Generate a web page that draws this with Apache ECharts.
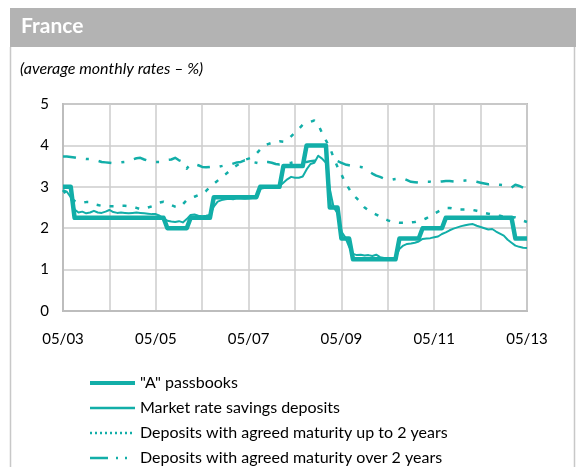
<!DOCTYPE html>
<html>
<head>
<meta charset="utf-8">
<script src="https://cdn.jsdelivr.net/npm/echarts@6/dist/echarts.min.js"></script>
<style>
  html, body { margin: 0; padding: 0; background: #ffffff; }
  #chart { width: 580px; height: 467px; }
</style>
</head>
<body>
<div id="chart"></div>
<script>
// Monthly observations, May 2003 to May 2013 (121 months)
const startYear = 2003, startMonth = 5, monthCount = 121;
const months = [];
for (let i = 0; i < monthCount; i++) {
  const m = ((startMonth - 1 + i) % 12) + 1;
  const y = startYear + Math.floor((startMonth - 1 + i) / 12);
  months.push(String(m).padStart(2, '0') + '/' + String(y % 100).padStart(2, '0'));
}

const seriesNames = [
  '"A" passbooks',
  'Market rate savings deposits',
  'Deposits with agreed maturity up to 2 years',
  'Deposits with agreed maturity over 2 years'
];

// Regulated "A" passbook rate (%)
const passbookA = [
  3.00, 3.00, 3.00,
  2.25, 2.25, 2.25, 2.25, 2.25, 2.25, 2.25, 2.25, 2.25, 2.25, 2.25, 2.25,
  2.25, 2.25, 2.25, 2.25, 2.25, 2.25, 2.25, 2.25, 2.25, 2.25, 2.25, 2.25,
  2.00, 2.00, 2.00, 2.00, 2.00, 2.00,
  2.25, 2.25, 2.25, 2.25, 2.25, 2.25,
  2.75, 2.75, 2.75, 2.75, 2.75, 2.75, 2.75, 2.75, 2.75, 2.75, 2.75, 2.75,
  3.00, 3.00, 3.00, 3.00, 3.00, 3.00,
  3.50, 3.50, 3.50, 3.50, 3.50, 3.50,
  4.00, 4.00, 4.00, 4.00, 4.00, 4.00,
  2.50, 2.50, 2.50,
  1.75, 1.75, 1.75,
  1.25, 1.25, 1.25, 1.25, 1.25, 1.25, 1.25, 1.25, 1.25, 1.25, 1.25, 1.25,
  1.75, 1.75, 1.75, 1.75, 1.75, 1.75,
  2.00, 2.00, 2.00, 2.00, 2.00, 2.00,
  2.25, 2.25, 2.25, 2.25, 2.25, 2.25, 2.25, 2.25, 2.25,
  2.25, 2.25, 2.25, 2.25, 2.25, 2.25, 2.25, 2.25, 2.25,
  1.75, 1.75, 1.75, 1.75
];

// Market rate savings deposits (%)
const marketRate = [
  2.92, 2.88, 2.75, 2.45, 2.38, 2.40, 2.36, 2.38, 2.42, 2.38, 2.37, 2.40,
  2.44, 2.39, 2.37, 2.38, 2.37, 2.36, 2.37, 2.38, 2.37, 2.36, 2.35, 2.34,
  2.34, 2.30, 2.24, 2.18, 2.16, 2.15, 2.17, 2.14, 2.22, 2.32, 2.33, 2.30,
  2.29, 2.30, 2.32, 2.52, 2.64, 2.68, 2.70, 2.71, 2.70, 2.72, 2.72, 2.71,
  2.72, 2.73, 2.76, 2.95, 2.97, 2.98, 2.97, 3.00, 3.02, 3.10, 3.18, 3.24,
  3.22, 3.22, 3.25, 3.42, 3.55, 3.58, 3.75, 3.68, 3.58, 2.95, 2.50, 2.36,
  1.92, 1.78, 1.55, 1.38, 1.35, 1.36, 1.34, 1.35, 1.33, 1.36, 1.30, 1.28,
  1.27, 1.27, 1.28, 1.50, 1.58, 1.62, 1.63, 1.65, 1.68, 1.74, 1.75, 1.76,
  1.78, 1.80, 1.86, 1.90, 1.95, 1.99, 2.02, 2.05, 2.07, 2.09, 2.10, 2.06,
  2.03, 2.00, 1.97, 1.98, 1.92, 1.87, 1.82, 1.72, 1.65, 1.58, 1.55, 1.53,
  1.52
];

// Deposits with agreed maturity up to 2 years (%)
const upTo2Years = [
  2.92, 2.80, 2.72, 2.66, 2.62, 2.62, 2.63, 2.63, 2.58, 2.56, 2.54, 2.53,
  2.53, 2.53, 2.53, 2.54, 2.54, 2.53, 2.52, 2.49, 2.46, 2.47, 2.50, 2.53,
  2.58, 2.62, 2.64, 2.60, 2.56, 2.52, 2.50, 2.58, 2.68, 2.72, 2.76, 2.80,
  2.82, 2.90, 2.99, 3.07, 3.15, 3.23, 3.30, 3.38, 3.46, 3.52, 3.58, 3.65,
  3.68, 3.72, 3.80, 3.90, 4.00, 4.03, 4.06, 4.09, 4.10, 4.09, 4.12, 4.22,
  4.31, 4.40, 4.50, 4.53, 4.57, 4.60, 4.50, 4.30, 4.12, 3.95, 3.70, 3.48,
  3.30, 3.10, 2.95, 2.80, 2.72, 2.62, 2.50, 2.43, 2.38, 2.33, 2.28, 2.23,
  2.19, 2.16, 2.14, 2.13, 2.13, 2.13, 2.14, 2.15, 2.18, 2.20, 2.24, 2.30,
  2.35, 2.40, 2.45, 2.49, 2.49, 2.47, 2.45, 2.45, 2.45, 2.44, 2.44, 2.42,
  2.40, 2.37, 2.35, 2.33, 2.31, 2.30, 2.28, 2.27, 2.27, 2.26, 2.22, 2.18,
  2.15
];

// Deposits with agreed maturity over 2 years (%)
const over2Years = [
  3.73, 3.73, 3.72, 3.71, 3.69, 3.68, 3.67, 3.67, 3.65, 3.63, 3.60, 3.59,
  3.58, 3.57, 3.58, 3.59, 3.60, 3.63, 3.66, 3.69, 3.70, 3.66, 3.63, 3.61,
  3.60, 3.60, 3.62, 3.65, 3.66, 3.70, 3.64, 3.60, 3.44, 3.55, 3.55, 3.52,
  3.48, 3.47, 3.48, 3.50, 3.48, 3.50, 3.52, 3.53, 3.56, 3.59, 3.60, 3.64,
  3.62, 3.60, 3.58, 3.56, 3.60, 3.60, 3.58, 3.55, 3.54, 3.55, 3.57, 3.58,
  3.60, 3.60, 3.61, 3.60, 3.62, 3.63, 3.62, 3.60, 3.58, 3.60, 3.64, 3.62,
  3.58, 3.54, 3.52, 3.50, 3.49, 3.48, 3.45, 3.38, 3.32, 3.27, 3.24, 3.20,
  3.18, 3.17, 3.19, 3.20, 3.20, 3.16, 3.12, 3.11, 3.10, 3.11, 3.12, 3.12,
  3.10, 3.12, 3.13, 3.14, 3.14, 3.13, 3.12, 3.14, 3.15, 3.15, 3.14, 3.12,
  3.10, 3.08, 3.06, 3.07, 3.06, 3.05, 3.04, 3.00, 2.98, 3.05, 3.02, 2.98,
  2.95
];

const teal = '#12aea8';
const font = 'Lato, "Open Sans", sans-serif';

const chart = echarts.init(document.getElementById('chart'), null, { renderer: 'canvas' });

function lineSeries(name, data, width, dash) {
  return {
    name: name,
    type: 'line',
    data: data,
    showSymbol: false,
    symbol: 'none',
    smooth: false,
    animation: false,
    lineStyle: { color: teal, width: width, type: dash, cap: 'butt', join: 'round' },
    itemStyle: { color: teal }
  };
}

// Legend samples: thick solid, thin solid, fine dots, dash-dot-dot
const legendStyles = [
  { width: 4, type: 'solid' },
  { width: 2.5, type: 'solid' },
  { width: 2.5, type: [2, 3] },
  { width: 2.5, type: [18, 8, 2, 7, 2, 40] }
];

chart.setOption({
  backgroundColor: '#ffffff',
  animation: false,
  textStyle: { fontFamily: font },
  graphic: [
    { type: 'rect', shape: { x: 10, y: 8, width: 566, height: 39 }, style: { fill: '#b3b3b3' } },
    { type: 'text', left: 21, top: 16, style: { text: 'France', fill: '#ffffff', font: 'bold 21px ' + font } },
    { type: 'text', left: 20, top: 61, style: { text: '(average monthly rates – %)', fill: '#000000', font: 'italic 16px ' + font } },
    { type: 'line', shape: { x1: 10.5, y1: 47, x2: 10.5, y2: 467 }, style: { stroke: '#c8c8c8', lineWidth: 1.5 } },
    { type: 'line', shape: { x1: 574.5, y1: 47, x2: 574.5, y2: 467 }, style: { stroke: '#c8c8c8', lineWidth: 1.5 } }
  ],
  grid: {
    left: 63, right: 53, top: 104, bottom: 156,
    show: true, borderColor: '#bdbdbd', borderWidth: 2, containLabel: false
  },
  legend: {
    orient: 'vertical',
    left: 88,
    top: 375,
    padding: 0,
    itemWidth: 45,
    itemHeight: 14,
    itemGap: 9,
    height: 100,
    itemStyle: { color: 'rgba(0,0,0,0)', borderWidth: 0, opacity: 0 },
    textStyle: { fontFamily: font, fontSize: 16, color: '#000000' },
    data: seriesNames.map(function (n, k) {
      return { name: n, lineStyle: { color: teal, width: legendStyles[k].width, type: legendStyles[k].type } };
    })
  },
  xAxis: {
    type: 'category',
    data: months,
    boundaryGap: false,
    axisLine: { show: true, lineStyle: { color: '#bdbdbd', width: 2 } },
    axisTick: { show: false },
    axisLabel: {
      interval: function (index) { return index % 24 === 0; },
      margin: 21,
      fontSize: 15,
      color: '#000000',
      fontFamily: font
    },
    splitLine: {
      show: true,
      interval: function (index) { return index % 12 === 0; },
      lineStyle: { color: '#cccccc', width: 1.5 }
    }
  },
  yAxis: {
    type: 'value',
    min: 0,
    max: 5,
    interval: 1,
    axisLine: { show: true, lineStyle: { color: '#bdbdbd', width: 2 } },
    axisTick: { show: false },
    axisLabel: { margin: 14, fontSize: 15, color: '#000000', fontFamily: font },
    splitLine: { show: true, lineStyle: { color: '#cccccc', width: 1.5 } }
  },
  series: [
    lineSeries(seriesNames[0], passbookA, 4.5, 'solid'),
    lineSeries(seriesNames[1], marketRate, 2, 'solid'),
    lineSeries(seriesNames[2], upTo2Years, 2.5, [4, 9]),
    lineSeries(seriesNames[3], over2Years, 2.5, [13, 10, 3, 10])
  ]
});
</script>
</body>
</html>
